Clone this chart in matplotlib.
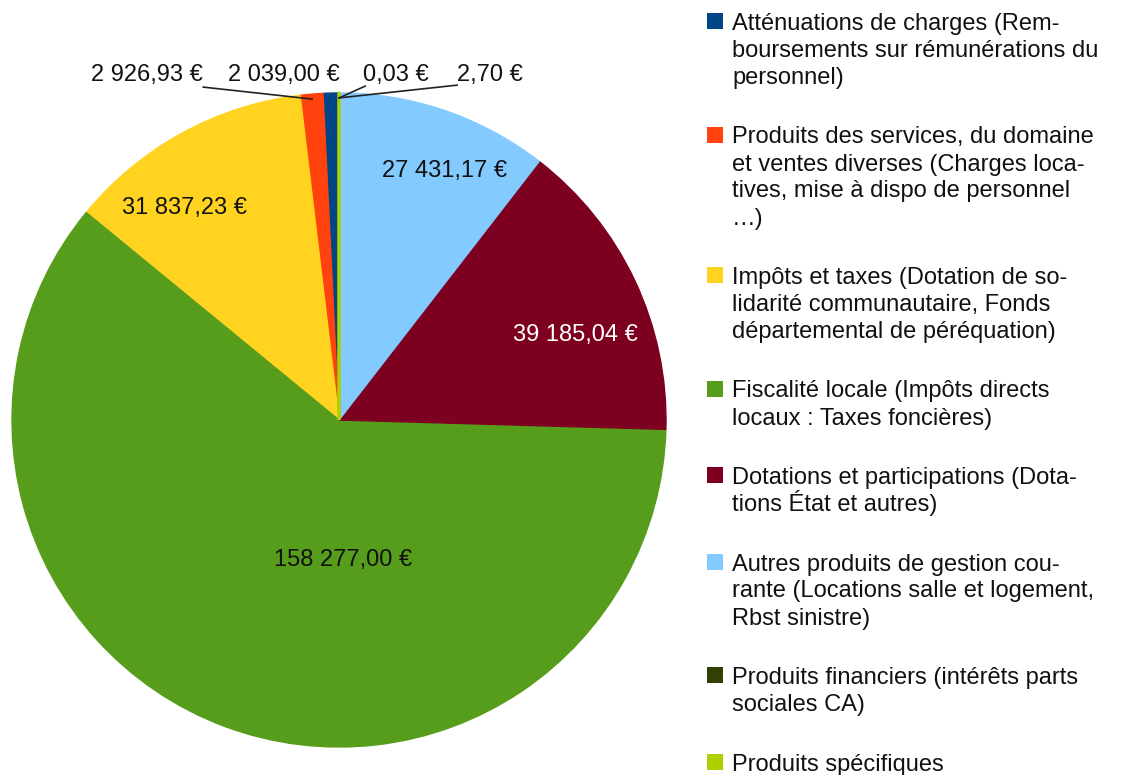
import matplotlib
matplotlib.use("Agg")
import matplotlib.pyplot as plt
from matplotlib.patches import Rectangle
import numpy as np

plt.rcParams['font.family'] = ['Liberation Sans', 'DejaVu Sans']

# ---------------- data ----------------
categories = [
    "Atténuations de charges (Rem-\nboursements sur rémunérations du\npersonnel)",
    "Produits des services, du domaine\net ventes diverses (Charges loca-\ntives, mise à dispo de personnel\n…)",
    "Impôts et taxes (Dotation de so-\nlidarité communautaire, Fonds\ndépartemental de péréquation)",
    "Fiscalité locale (Impôts directs\nlocaux : Taxes foncières)",
    "Dotations et participations (Dota-\ntions État et autres)",
    "Autres produits de gestion cou-\nrante (Locations salle et logement,\nRbst sinistre)",
    "Produits financiers (intérêts parts\nsociales CA)",
    "Produits spécifiques",
]
values = [2039.00, 2926.93, 31837.23, 158277.00, 39185.04, 27431.17, 0.03, 2.70]
colors = ['#004586', '#ff420e', '#ffd320', '#579d1c', '#7e0021', '#83caff', '#314004', '#aecf00']

# ---------------- layout ----------------
W, H = 1121, 775
FS = 17
label_pos = [(-0.168, 1.064), (-0.587, 1.064), (-0.471, 0.657), (0.012, -0.42),
             (0.722, 0.269), (0.324, 0.771), (0.174, 1.064), (0.462, 1.064)]
label_colors = ['#111111', '#111111', '#111111', '#111111', 'white', '#111111', '#111111', '#111111']
leader_start = {1: (-0.415, 1.018), 6: (0.080, 1.021), 7: (0.361, 1.024)}


def euro(v):
    s = f"{v:,.2f}".replace(",", " ").replace(".", ",")
    return s + " €"


fig = plt.figure(figsize=(W / 100, H / 100), dpi=100)
fig.patch.set_facecolor('white')

cx, cy, R = 339, 420, 327
ax = fig.add_axes([(cx - R) / W, (H - cy - R) / H, 2 * R / W, 2 * R / H])
wedges, _ = ax.pie(values, colors=colors, startangle=90, counterclock=True,
                   wedgeprops=dict(linewidth=1.0))
for w, c in zip(wedges, colors):
    w.set_edgecolor(c)
wedges[-1].set_linewidth(2.0)
ax.set_xlim(-1, 1)
ax.set_ylim(-1, 1)
ax.set_aspect('equal')
ax.axis('off')

px = 1.0 / R
for i, (v, w) in enumerate(zip(values, wedges)):
    x, y = label_pos[i]
    ax.text(x, y - 9 * px, euro(v), ha='center', va='baseline', fontsize=FS,
            color=label_colors[i], clip_on=False)
    if i in leader_start:
        th = np.deg2rad((w.theta1 + w.theta2) / 2)
        ex, ey = 0.985 * np.cos(th), 0.985 * np.sin(th)
        sx, sy = leader_start[i]
        ax.plot([sx, ex], [sy, ey], color='#222222', lw=1.2, clip_on=False)

# ---------------- legend ----------------
line_h = 27
gap = 32.5
y = 21.0
for lab, c in zip(categories, colors):
    lines = lab.split("\n")
    fig.add_artist(Rectangle((707 / W, 1 - (y + 8) / H), 16 / W, 16 / H,
                             transform=fig.transFigure, facecolor=c,
                             edgecolor='none'))
    for k, ln in enumerate(lines):
        yy = y + k * line_h
        fig.text(732 / W, 1 - (yy + 9) / H, ln, ha='left', va='baseline',
                 fontsize=FS, color='#111111')
    y += len(lines) * line_h + gap

fig.savefig("out.png", dpi=100)
